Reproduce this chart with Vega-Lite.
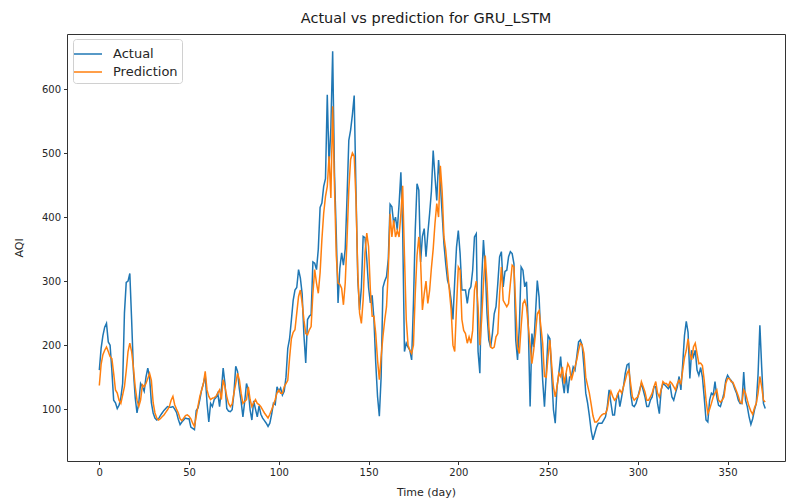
{
"$schema": "https://vega.github.io/schema/vega-lite/v6.json",
"autosize": {"type": "none"},
"padding": {"left": 67, "top": 34, "right": 5, "bottom": 40},
"width": 718,
"height": 427,
"background": "white",
"title": {"text": "Actual vs prediction for GRU_LSTM", "font": "DejaVu Sans", "fontSize": 14.5, "fontWeight": "normal", "color": "#1a1a1a", "offset": 8},
"config": {"view": {"stroke": "#333", "strokeWidth": 1}},
"datasets": {"aqi": [
{"day":0,"Actual":161,"Prediction":137},{"day":1,"Actual":195,"Prediction":170},{"day":2,"Actual":215,"Prediction":185},{"day":3,"Actual":228,"Prediction":192},{"day":4,"Actual":234,"Prediction":197},{"day":5,"Actual":205,"Prediction":190},{"day":6,"Actual":200,"Prediction":182},{"day":7,"Actual":160,"Prediction":179},{"day":8,"Actual":114,"Prediction":156},{"day":9,"Actual":110,"Prediction":130},
{"day":10,"Actual":101,"Prediction":125},{"day":11,"Actual":106,"Prediction":114},{"day":12,"Actual":118,"Prediction":109},{"day":13,"Actual":140,"Prediction":122},{"day":14,"Actual":250,"Prediction":135},{"day":15,"Actual":298,"Prediction":160},{"day":16,"Actual":300,"Prediction":190},{"day":17,"Actual":312,"Prediction":203},{"day":18,"Actual":240,"Prediction":190},{"day":19,"Actual":160,"Prediction":165},
{"day":20,"Actual":118,"Prediction":135},{"day":21,"Actual":94,"Prediction":114},{"day":22,"Actual":110,"Prediction":104},{"day":23,"Actual":140,"Prediction":114},{"day":24,"Actual":135,"Prediction":138},{"day":25,"Actual":128,"Prediction":135},{"day":26,"Actual":150,"Prediction":140},{"day":27,"Actual":164,"Prediction":148},{"day":28,"Actual":150,"Prediction":156},{"day":29,"Actual":110,"Prediction":145},
{"day":30,"Actual":94,"Prediction":110},{"day":31,"Actual":86,"Prediction":94},{"day":32,"Actual":83,"Prediction":86},{"day":33,"Actual":85,"Prediction":83},{"day":34,"Actual":90,"Prediction":85},{"day":35,"Actual":94,"Prediction":88},{"day":36,"Actual":98,"Prediction":91},{"day":37,"Actual":101,"Prediction":95},{"day":38,"Actual":104,"Prediction":99},{"day":39,"Actual":103,"Prediction":104},
{"day":40,"Actual":103,"Prediction":114},{"day":41,"Actual":104,"Prediction":120},{"day":42,"Actual":100,"Prediction":107},{"day":43,"Actual":95,"Prediction":100},{"day":44,"Actual":84,"Prediction":94},{"day":45,"Actual":76,"Prediction":85},{"day":46,"Actual":80,"Prediction":82},{"day":47,"Actual":83,"Prediction":86},{"day":48,"Actual":86,"Prediction":90},{"day":49,"Actual":85,"Prediction":91},
{"day":50,"Actual":85,"Prediction":89},{"day":51,"Actual":72,"Prediction":85},{"day":52,"Actual":70,"Prediction":78},{"day":53,"Actual":68,"Prediction":73},{"day":54,"Actual":98,"Prediction":89},{"day":55,"Actual":102,"Prediction":105},{"day":56,"Actual":115,"Prediction":120},{"day":57,"Actual":130,"Prediction":130},{"day":58,"Actual":140,"Prediction":140},{"day":59,"Actual":153,"Prediction":159},
{"day":60,"Actual":110,"Prediction":130},{"day":61,"Actual":80,"Prediction":120},{"day":62,"Actual":109,"Prediction":115},{"day":63,"Actual":104,"Prediction":117},{"day":64,"Actual":115,"Prediction":118},{"day":65,"Actual":118,"Prediction":120},{"day":66,"Actual":125,"Prediction":125},{"day":67,"Actual":104,"Prediction":130},{"day":68,"Actual":130,"Prediction":115},{"day":69,"Actual":164,"Prediction":146},
{"day":70,"Actual":140,"Prediction":135},{"day":71,"Actual":101,"Prediction":120},{"day":72,"Actual":97,"Prediction":109},{"day":73,"Actual":96,"Prediction":104},{"day":74,"Actual":99,"Prediction":108},{"day":75,"Actual":125,"Prediction":125},{"day":76,"Actual":167,"Prediction":140},{"day":77,"Actual":159,"Prediction":156},{"day":78,"Actual":132,"Prediction":146},{"day":79,"Actual":112,"Prediction":125},
{"day":80,"Actual":88,"Prediction":109},{"day":81,"Actual":112,"Prediction":112},{"day":82,"Actual":140,"Prediction":115},{"day":83,"Actual":130,"Prediction":135},{"day":84,"Actual":99,"Prediction":115},{"day":85,"Actual":83,"Prediction":104},{"day":86,"Actual":113,"Prediction":110},{"day":87,"Actual":100,"Prediction":115},{"day":88,"Actual":88,"Prediction":109},{"day":89,"Actual":105,"Prediction":107},
{"day":90,"Actual":92,"Prediction":104},{"day":91,"Actual":86,"Prediction":99},{"day":92,"Actual":82,"Prediction":94},{"day":93,"Actual":78,"Prediction":90},{"day":94,"Actual":73,"Prediction":86},{"day":95,"Actual":78,"Prediction":92},{"day":96,"Actual":92,"Prediction":99},{"day":97,"Actual":109,"Prediction":107},{"day":98,"Actual":107,"Prediction":115},{"day":99,"Actual":135,"Prediction":125},
{"day":100,"Actual":128,"Prediction":130},{"day":101,"Actual":133,"Prediction":125},{"day":102,"Actual":122,"Prediction":125},{"day":103,"Actual":128,"Prediction":135},{"day":104,"Actual":150,"Prediction":140},{"day":105,"Actual":195,"Prediction":145},{"day":106,"Actual":210,"Prediction":180},{"day":107,"Actual":239,"Prediction":210},{"day":108,"Actual":270,"Prediction":220},{"day":109,"Actual":286,"Prediction":224},
{"day":110,"Actual":290,"Prediction":250},{"day":111,"Actual":318,"Prediction":276},{"day":112,"Actual":305,"Prediction":286},{"day":113,"Actual":280,"Prediction":266},{"day":114,"Actual":215,"Prediction":239},{"day":115,"Actual":172,"Prediction":218},{"day":116,"Actual":240,"Prediction":216},{"day":117,"Actual":245,"Prediction":224},{"day":118,"Actual":248,"Prediction":229},{"day":119,"Actual":330,"Prediction":281},
{"day":120,"Actual":328,"Prediction":318},{"day":121,"Actual":318,"Prediction":297},{"day":122,"Actual":350,"Prediction":281},{"day":123,"Actual":415,"Prediction":313},{"day":124,"Actual":422,"Prediction":365},{"day":125,"Actual":448,"Prediction":406},{"day":126,"Actual":460,"Prediction":432},{"day":127,"Actual":591,"Prediction":448},{"day":128,"Actual":480,"Prediction":495},{"day":129,"Actual":540,"Prediction":430},
{"day":130,"Actual":659,"Prediction":573},{"day":131,"Actual":470,"Prediction":450},{"day":132,"Actual":375,"Prediction":340},{"day":133,"Actual":266,"Prediction":297},{"day":134,"Actual":320,"Prediction":295},{"day":135,"Actual":344,"Prediction":289},{"day":136,"Actual":325,"Prediction":263},{"day":137,"Actual":350,"Prediction":297},{"day":138,"Actual":430,"Prediction":365},{"day":139,"Actual":520,"Prediction":443},
{"day":140,"Actual":536,"Prediction":490},{"day":141,"Actual":560,"Prediction":500},{"day":142,"Actual":590,"Prediction":495},{"day":143,"Actual":440,"Prediction":427},{"day":144,"Actual":302,"Prediction":313},{"day":145,"Actual":255,"Prediction":250},{"day":146,"Actual":290,"Prediction":234},{"day":147,"Actual":370,"Prediction":271},{"day":148,"Actual":368,"Prediction":344},{"day":149,"Actual":335,"Prediction":375},
{"day":150,"Actual":290,"Prediction":354},{"day":151,"Actual":266,"Prediction":286},{"day":152,"Actual":278,"Prediction":245},{"day":153,"Actual":240,"Prediction":245},{"day":154,"Actual":172,"Prediction":218},{"day":155,"Actual":120,"Prediction":177},{"day":156,"Actual":89,"Prediction":146},{"day":157,"Actual":150,"Prediction":182},{"day":158,"Actual":290,"Prediction":213},{"day":159,"Actual":300,"Prediction":239},
{"day":160,"Actual":307,"Prediction":260},{"day":161,"Actual":335,"Prediction":317},{"day":162,"Actual":420,"Prediction":405},{"day":163,"Actual":416,"Prediction":369},{"day":164,"Actual":390,"Prediction":395},{"day":165,"Actual":400,"Prediction":369},{"day":166,"Actual":380,"Prediction":379},{"day":167,"Actual":420,"Prediction":369},{"day":168,"Actual":470,"Prediction":405},{"day":169,"Actual":380,"Prediction":449},
{"day":170,"Actual":190,"Prediction":340},{"day":171,"Actual":203,"Prediction":240},{"day":172,"Actual":197,"Prediction":200},{"day":173,"Actual":192,"Prediction":192},{"day":174,"Actual":177,"Prediction":187},{"day":175,"Actual":265,"Prediction":200},{"day":176,"Actual":379,"Prediction":280},{"day":177,"Actual":452,"Prediction":340},{"day":178,"Actual":442,"Prediction":369},{"day":179,"Actual":330,"Prediction":330},
{"day":180,"Actual":370,"Prediction":255},{"day":181,"Actual":382,"Prediction":280},{"day":182,"Actual":338,"Prediction":300},{"day":183,"Actual":374,"Prediction":265},{"day":184,"Actual":405,"Prediction":285},{"day":185,"Actual":440,"Prediction":320},{"day":186,"Actual":504,"Prediction":350},{"day":187,"Actual":463,"Prediction":390},{"day":188,"Actual":426,"Prediction":421},{"day":189,"Actual":489,"Prediction":400},
{"day":190,"Actual":452,"Prediction":480},{"day":191,"Actual":405,"Prediction":440},{"day":192,"Actual":358,"Prediction":369},{"day":193,"Actual":327,"Prediction":348},{"day":194,"Actual":301,"Prediction":317},{"day":195,"Actual":291,"Prediction":286},{"day":196,"Actual":270,"Prediction":255},{"day":197,"Actual":240,"Prediction":200},{"day":198,"Actual":300,"Prediction":190},{"day":199,"Actual":353,"Prediction":260},
{"day":200,"Actual":379,"Prediction":322},{"day":201,"Actual":343,"Prediction":317},{"day":202,"Actual":286,"Prediction":240},{"day":203,"Actual":286,"Prediction":223},{"day":204,"Actual":286,"Prediction":218},{"day":205,"Actual":265,"Prediction":203},{"day":206,"Actual":286,"Prediction":213},{"day":207,"Actual":291,"Prediction":203},{"day":208,"Actual":317,"Prediction":223},{"day":209,"Actual":369,"Prediction":286},
{"day":210,"Actual":374,"Prediction":300},{"day":211,"Actual":190,"Prediction":260},{"day":212,"Actual":156,"Prediction":200},{"day":213,"Actual":300,"Prediction":240},{"day":214,"Actual":364,"Prediction":296},{"day":215,"Actual":322,"Prediction":340},{"day":216,"Actual":249,"Prediction":296},{"day":217,"Actual":208,"Prediction":229},{"day":218,"Actual":197,"Prediction":197},{"day":219,"Actual":218,"Prediction":195},
{"day":220,"Actual":249,"Prediction":197},{"day":221,"Actual":260,"Prediction":213},{"day":222,"Actual":296,"Prediction":218},{"day":223,"Actual":338,"Prediction":280},{"day":224,"Actual":346,"Prediction":322},{"day":225,"Actual":291,"Prediction":270},{"day":226,"Actual":315,"Prediction":265},{"day":227,"Actual":317,"Prediction":260},{"day":228,"Actual":338,"Prediction":265},{"day":229,"Actual":346,"Prediction":296},
{"day":230,"Actual":343,"Prediction":325},{"day":231,"Actual":327,"Prediction":322},{"day":232,"Actual":208,"Prediction":260},{"day":233,"Actual":177,"Prediction":197},{"day":234,"Actual":229,"Prediction":187},{"day":235,"Actual":322,"Prediction":229},{"day":236,"Actual":317,"Prediction":265},{"day":237,"Actual":291,"Prediction":270},{"day":238,"Actual":299,"Prediction":260},{"day":239,"Actual":229,"Prediction":229},
{"day":240,"Actual":104,"Prediction":200},{"day":241,"Actual":218,"Prediction":171},{"day":242,"Actual":197,"Prediction":192},{"day":243,"Actual":249,"Prediction":218},{"day":244,"Actual":301,"Prediction":249},{"day":245,"Actual":275,"Prediction":254},{"day":246,"Actual":208,"Prediction":229},{"day":247,"Actual":145,"Prediction":203},{"day":248,"Actual":104,"Prediction":151},{"day":249,"Actual":156,"Prediction":150},
{"day":250,"Actual":215,"Prediction":182},{"day":251,"Actual":210,"Prediction":208},{"day":252,"Actual":156,"Prediction":170},{"day":253,"Actual":99,"Prediction":135},{"day":254,"Actual":78,"Prediction":119},{"day":255,"Actual":135,"Prediction":135},{"day":256,"Actual":156,"Prediction":156},{"day":257,"Actual":182,"Prediction":151},{"day":258,"Actual":145,"Prediction":166},{"day":259,"Actual":125,"Prediction":140},
{"day":260,"Actual":156,"Prediction":156},{"day":261,"Actual":125,"Prediction":171},{"day":262,"Actual":150,"Prediction":165},{"day":263,"Actual":151,"Prediction":145},{"day":264,"Actual":166,"Prediction":156},{"day":265,"Actual":161,"Prediction":166},{"day":266,"Actual":182,"Prediction":177},{"day":267,"Actual":205,"Prediction":192},{"day":268,"Actual":208,"Prediction":203},{"day":269,"Actual":200,"Prediction":200},
{"day":270,"Actual":166,"Prediction":187},{"day":271,"Actual":125,"Prediction":150},{"day":272,"Actual":110,"Prediction":137},{"day":273,"Actual":90,"Prediction":125},{"day":274,"Actual":67,"Prediction":108},{"day":275,"Actual":52,"Prediction":90},{"day":276,"Actual":62,"Prediction":80},{"day":277,"Actual":72,"Prediction":80},{"day":278,"Actual":78,"Prediction":83},{"day":279,"Actual":78,"Prediction":88},
{"day":280,"Actual":78,"Prediction":91},{"day":281,"Actual":83,"Prediction":93},{"day":282,"Actual":88,"Prediction":93},{"day":283,"Actual":104,"Prediction":100},{"day":284,"Actual":130,"Prediction":118},{"day":285,"Actual":110,"Prediction":128},{"day":286,"Actual":91,"Prediction":120},{"day":287,"Actual":91,"Prediction":114},{"day":288,"Actual":115,"Prediction":117},{"day":289,"Actual":125,"Prediction":125},
{"day":290,"Actual":104,"Prediction":130},{"day":291,"Actual":119,"Prediction":125},{"day":292,"Actual":135,"Prediction":135},{"day":293,"Actual":156,"Prediction":145},{"day":294,"Actual":169,"Prediction":156},{"day":295,"Actual":171,"Prediction":161},{"day":296,"Actual":125,"Prediction":140},{"day":297,"Actual":106,"Prediction":119},{"day":298,"Actual":104,"Prediction":114},{"day":299,"Actual":109,"Prediction":117},
{"day":300,"Actual":119,"Prediction":119},{"day":301,"Actual":130,"Prediction":127},{"day":302,"Actual":140,"Prediction":143},{"day":303,"Actual":130,"Prediction":135},{"day":304,"Actual":119,"Prediction":127},{"day":305,"Actual":104,"Prediction":114},{"day":306,"Actual":104,"Prediction":114},{"day":307,"Actual":114,"Prediction":119},{"day":308,"Actual":119,"Prediction":125},{"day":309,"Actual":135,"Prediction":135},
{"day":310,"Actual":135,"Prediction":143},{"day":311,"Actual":109,"Prediction":125},{"day":312,"Actual":93,"Prediction":119},{"day":313,"Actual":130,"Prediction":130},{"day":314,"Actual":140,"Prediction":143},{"day":315,"Actual":138,"Prediction":140},{"day":316,"Actual":135,"Prediction":140},{"day":317,"Actual":132,"Prediction":136},{"day":318,"Actual":137,"Prediction":143},{"day":319,"Actual":119,"Prediction":140},
{"day":320,"Actual":114,"Prediction":135},{"day":321,"Actual":125,"Prediction":130},{"day":322,"Actual":135,"Prediction":140},{"day":323,"Actual":151,"Prediction":145},{"day":324,"Actual":130,"Prediction":140},{"day":325,"Actual":170,"Prediction":160},{"day":326,"Actual":215,"Prediction":180},{"day":327,"Actual":237,"Prediction":192},{"day":328,"Actual":220,"Prediction":210},{"day":329,"Actual":148,"Prediction":187},
{"day":330,"Actual":192,"Prediction":177},{"day":331,"Actual":182,"Prediction":197},{"day":332,"Actual":192,"Prediction":203},{"day":333,"Actual":161,"Prediction":187},{"day":334,"Actual":153,"Prediction":171},{"day":335,"Actual":165,"Prediction":172},{"day":336,"Actual":150,"Prediction":168},{"day":337,"Actual":118,"Prediction":145},{"day":338,"Actual":83,"Prediction":114},{"day":339,"Actual":80,"Prediction":93},
{"day":340,"Actual":114,"Prediction":100},{"day":341,"Actual":125,"Prediction":109},{"day":342,"Actual":122,"Prediction":119},{"day":343,"Actual":143,"Prediction":125},{"day":344,"Actual":119,"Prediction":130},{"day":345,"Actual":106,"Prediction":114},{"day":346,"Actual":104,"Prediction":111},{"day":347,"Actual":114,"Prediction":114},{"day":348,"Actual":125,"Prediction":119},{"day":349,"Actual":145,"Prediction":140},
{"day":350,"Actual":153,"Prediction":148},{"day":351,"Actual":148,"Prediction":148},{"day":352,"Actual":145,"Prediction":143},{"day":353,"Actual":140,"Prediction":142},{"day":354,"Actual":132,"Prediction":135},{"day":355,"Actual":125,"Prediction":128},{"day":356,"Actual":114,"Prediction":120},{"day":357,"Actual":109,"Prediction":111},{"day":358,"Actual":109,"Prediction":109},{"day":359,"Actual":158,"Prediction":130},
{"day":360,"Actual":114,"Prediction":125},{"day":361,"Actual":104,"Prediction":114},{"day":362,"Actual":88,"Prediction":104},{"day":363,"Actual":76,"Prediction":97},{"day":364,"Actual":85,"Prediction":92},{"day":365,"Actual":99,"Prediction":102},{"day":366,"Actual":109,"Prediction":109},{"day":367,"Actual":155,"Prediction":125},{"day":368,"Actual":231,"Prediction":151},{"day":369,"Actual":166,"Prediction":135},
{"day":370,"Actual":109,"Prediction":114},{"day":371,"Actual":101,"Prediction":111}
]},
"data": {"name": "aqi"},
"transform": [{"fold": ["Actual", "Prediction"], "as": ["series", "value"]}],
"mark": {"type": "line", "strokeWidth": 1.5, "clip": true},
"encoding": {
"x": {"field": "day", "type": "quantitative", "title": "Time (day)",
 "scale": {"domain": [-18, 382], "nice": false, "zero": false},
 "axis": {"values": [0, 50, 100, 150, 200, 250, 300, 350], "grid": false, "domain": false, "tickColor": "#333", "tickSize": 3.5, "labelFont": "DejaVu Sans", "labelFontSize": 10, "labelColor": "#262626", "labelPadding": 3, "titleFont": "DejaVu Sans", "titleFontSize": 11, "titleFontWeight": "normal", "titleColor": "#262626", "titlePadding": 9}},
"y": {"field": "value", "type": "quantitative", "title": "AQI",
 "scale": {"domain": [19, 686], "nice": false, "zero": false},
 "axis": {"values": [100, 200, 300, 400, 500, 600], "grid": false, "domain": false, "tickColor": "#333", "tickSize": 3.5, "labelFont": "DejaVu Sans", "labelFontSize": 10, "labelColor": "#262626", "labelPadding": 3, "titleFont": "DejaVu Sans", "titleFontSize": 11, "titleFontWeight": "normal", "titleColor": "#262626", "titlePadding": 17}},
"color": {"field": "series", "type": "nominal",
 "scale": {"domain": ["Actual", "Prediction"], "range": ["#1f77b4", "#ff7f0e"]},
 "legend": {"title": null, "orient": "none", "legendX": 6, "legendY": 5, "symbolType": "M-1.4,0H1.4", "symbolSize": 400, "symbolStrokeWidth": 1.5, "labelFont": "DejaVu Sans", "labelFontSize": 13, "labelColor": "#262626", "padding": 4, "rowPadding": 0, "strokeColor": "#d0d0d0", "fillColor": "white", "cornerRadius": 3, "labelOffset": 14}}
}
}
